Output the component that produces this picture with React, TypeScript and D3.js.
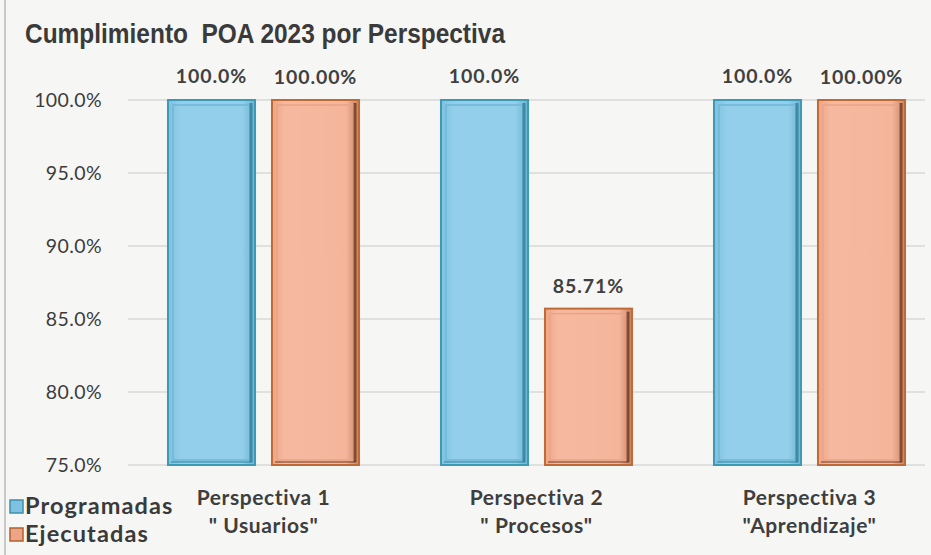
import React from "react";
import * as d3 from "d3";

const categories = ["Perspectiva 1", "Perspectiva 2", "Perspectiva 3"];
const subtitles = ["\" Usuarios\"", "\" Procesos\"", "\"Aprendizaje\""];
const programadas = [100.0, 100.0, 100.0];
const ejecutadas = [100.0, 85.71, 100.0];
const programadasLabels = ["100.0%", "100.0%", "100.0%"];
const ejecutadasLabels = ["100.00%", "85.71%", "100.00%"];
const yTicks = [75, 80, 85, 90, 95, 100];
const seriesNames = ["Programadas", "Ejecutadas"];

const W = 931;
const H = 555;

export default function App() {
  const x = d3.scaleBand<string>().domain(categories).range([127, 946]).paddingInner(0).paddingOuter(0);
  const sub = d3.scaleBand<string>().domain(seriesNames).range([0, x.bandwidth()]).paddingInner(0.163).paddingOuter(0.394);
  const y = d3.scaleLinear().domain([75, 100]).range([465, 100]);
  const fmt = (v: number) => v.toFixed(1) + "%";
  const labelFont = "Lato, 'Open Sans', sans-serif";

  const styles = [
    { fill: "url(#gBlue)", stroke: "#3d9ab6", inner: "#6fb8d6", dark: "#2f7f98" },
    { fill: "url(#gOrange)", stroke: "#c06a35", inner: "#e9a487", dark: "#6b3a22" },
  ];

  const bar = (cat: string, si: number, v: number, key: string) => {
    const bx = (x(cat) as number) + (sub(seriesNames[si]) as number);
    const bw = sub.bandwidth();
    const by = y(v);
    const bh = y(75) - by;
    const s = styles[si];
    return (
      <g key={key}>
        <rect x={bx} y={by} width={bw} height={bh} fill={s.fill} stroke={s.stroke} strokeWidth={2} />
        <rect x={bx + 5} y={by + 5} width={bw - 10} height={bh - 10} fill="none" stroke={s.inner} strokeWidth={1.5} />
        <line x1={bx + bw - 4} x2={bx + bw - 4} y1={by + 3} y2={by + bh - 3} stroke={s.dark} strokeWidth={3} opacity={0.8} />
        <line x1={bx + 3} x2={bx + bw - 3} y1={by + bh - 3} y2={by + bh - 3} stroke={s.dark} strokeWidth={2} opacity={0.5} />
      </g>
    );
  };

  return (
    <svg width={W} height={H} style={{ display: "block", position: "absolute", left: 0, top: 0 }}>
      <defs>
        <linearGradient id="gBlue" x1="0" x2="1" y1="0" y2="0">
          <stop offset="0" stopColor="#7fc1e0" />
          <stop offset="0.15" stopColor="#93cfea" />
          <stop offset="0.85" stopColor="#93cfea" />
          <stop offset="1" stopColor="#6db3d2" />
        </linearGradient>
        <linearGradient id="gOrange" x1="0" x2="1" y1="0" y2="0">
          <stop offset="0" stopColor="#eea487" />
          <stop offset="0.15" stopColor="#f6b9a0" />
          <stop offset="0.85" stopColor="#f4b59b" />
          <stop offset="1" stopColor="#c98262" />
        </linearGradient>
      </defs>
      <rect x={0} y={0} width={W} height={H} fill="#f6f6f4" />
      <line x1={5} x2={5} y1={0} y2={H} stroke="#c8c8c8" strokeWidth={2} />

      <text x={25} y={43} fontFamily="'Liberation Sans Narrow', 'Liberation Sans', Arial, sans-serif" fontWeight="bold" fontSize={28} fill="#3a3a3a" textLength={480} lengthAdjust="spacingAndGlyphs" style={{ whiteSpace: "pre" }}>
        {"Cumplimiento  POA 2023 por Perspectiva"}
      </text>

      {yTicks.map((t) => (
        <g key={t}>
          <line x1={128} x2={925} y1={y(t)} y2={y(t)} stroke="#c9c9c9" strokeWidth={1.2} />
          <text x={102} y={y(t) + 7} textAnchor="end" fontFamily={labelFont} fontSize={19.5} letterSpacing={0.4} fill="#3c3c3c">
            {fmt(t)}
          </text>
        </g>
      ))}

      {categories.map((c, i) => bar(c, 0, programadas[i], "p" + i))}
      {categories.map((c, i) => bar(c, 1, ejecutadas[i], "e" + i))}

      {categories.map((c, i) => {
        const b0 = (x(c) as number) + (sub(seriesNames[0]) as number) + sub.bandwidth() / 2;
        const b1 = (x(c) as number) + (sub(seriesNames[1]) as number) + sub.bandwidth() / 2;
        return (
          <g key={"l" + i} fontFamily={labelFont} fontWeight="bold" fontSize={19.5} letterSpacing={0.9} fill="#404040" textAnchor="middle">
            <text x={b0} y={y(programadas[i]) - 17}>{programadasLabels[i]}</text>
            <text x={b1} y={y(ejecutadas[i]) - 16}>{ejecutadasLabels[i]}</text>
          </g>
        );
      })}

      {categories.map((c, i) => {
        const cx = (x(c) as number) + x.bandwidth() / 2;
        return (
          <g key={"x" + i} fontFamily={labelFont} fontWeight="bold" fontSize={21} letterSpacing={0.6} fill="#3e3e3e" textAnchor="middle">
            <text x={cx} y={505} style={{ whiteSpace: "pre" }}>{c}</text>
            <text x={cx} y={533} style={{ whiteSpace: "pre" }}>{subtitles[i]}</text>
          </g>
        );
      })}

      <g fontFamily={labelFont} fontWeight="bold" fontSize={23.5} letterSpacing={1.1} fill="#3a3a3a">
        <rect x={10} y={500} width={13} height={13} fill="#7fc1e0" stroke="#3d8fae" strokeWidth={1.5} />
        <text x={25} y={514}>{seriesNames[0]}</text>
        <rect x={10} y={528} width={13} height={13} fill="#eea487" stroke="#b0602e" strokeWidth={1.5} />
        <text x={25} y={542}>{seriesNames[1]}</text>
      </g>
    </svg>
  );
}
